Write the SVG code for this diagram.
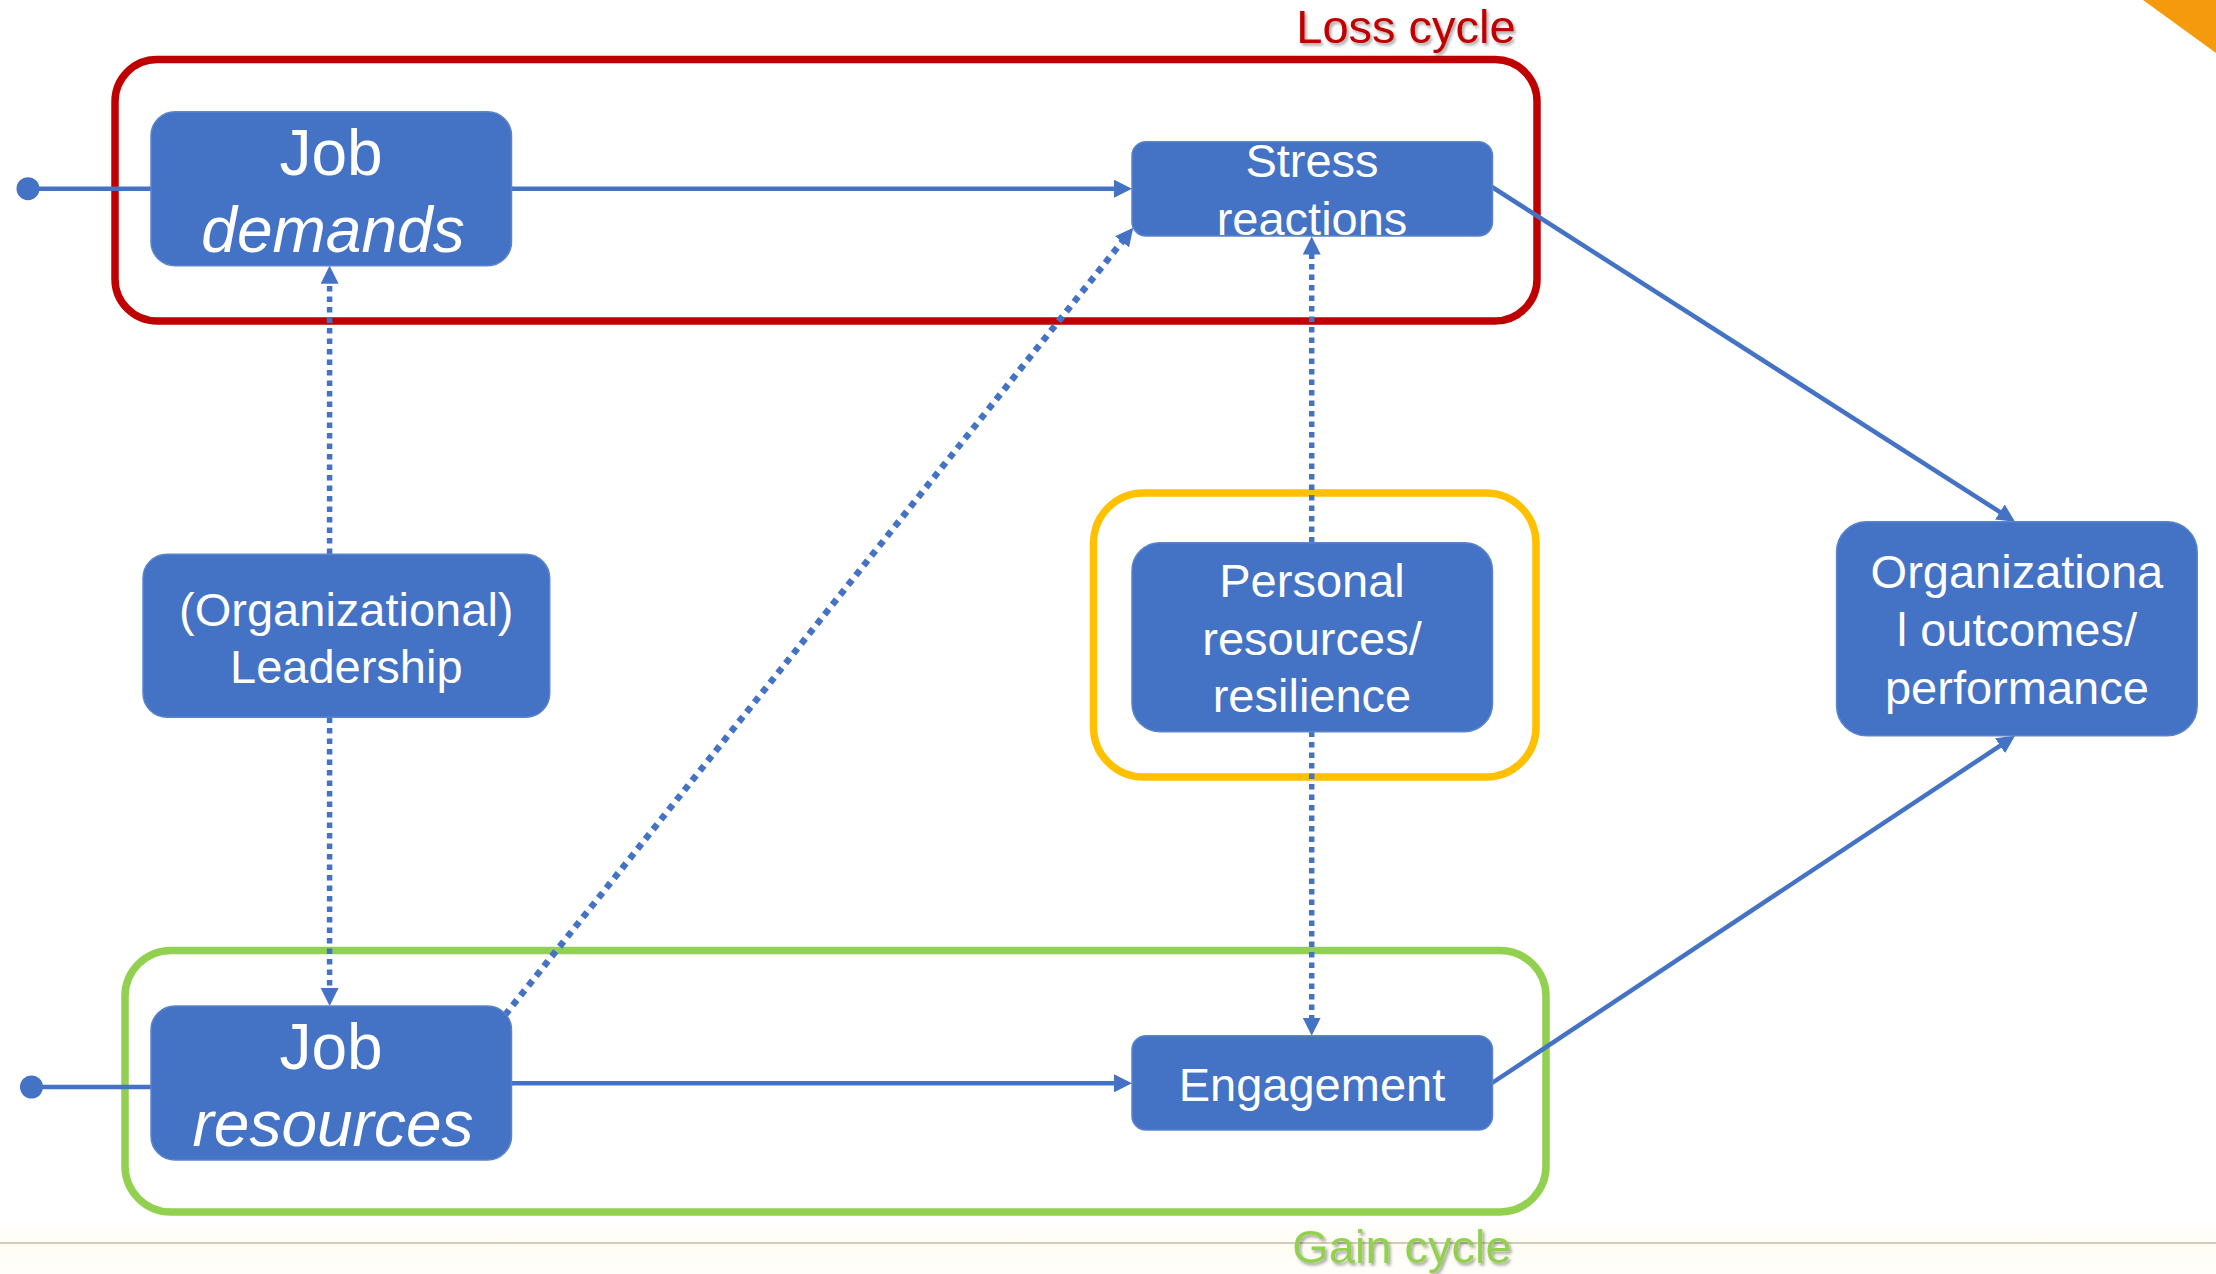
<svg xmlns="http://www.w3.org/2000/svg" width="2216" height="1274" viewBox="0 0 2216 1274">
  <style>
    .node { fill: #4472C4; stroke: #5B84CC; stroke-width: 1.5; }
    .lbl { font-family: "Liberation Sans", Arial, sans-serif; fill: #FFFFFF; text-anchor: middle; font-size: 47px; }
    .big { font-size: 64px; }
    .it { font-style: italic; }
    .flow { fill: none; stroke: #4472C4; stroke-width: 4.5; }
    .dot { fill: none; stroke: #4472C4; stroke-width: 5.5; stroke-dasharray: 5.5 5; }
    .dotwide { fill: none; stroke: #4472C4; stroke-width: 6.5; stroke-dasharray: 6.5 6; }
    .cycle { fill: none; stroke-width: 7.5; }
    .title { font-family: "Liberation Sans", Arial, sans-serif; font-size: 47px; text-anchor: middle; }
  </style>
  <defs>
    <marker id="arrow" viewBox="0 0 18 18" refX="8" refY="9" markerWidth="18" markerHeight="18" markerUnits="userSpaceOnUse" orient="auto">
      <path d="M0,0 L18,9 L0,18 z" fill="#4472C4"/>
    </marker>
    <filter id="shadow" x="-10%" y="-30%" width="120%" height="160%">
      <feDropShadow dx="2" dy="2.5" stdDeviation="1.5" flood-color="#000000" flood-opacity="0.35"/>
    </filter>
    <linearGradient id="band" x1="0" y1="0" x2="0" y2="1">
      <stop offset="0" stop-color="#FFFFFF"/>
      <stop offset="0.4" stop-color="#FFFCF3"/>
      <stop offset="1" stop-color="#FFFEFA"/>
    </linearGradient>
  </defs>

  <!-- page -->
  <rect x="0" y="0" width="2216" height="1274" fill="#FFFFFF"/>
  <rect x="0" y="1222" width="2216" height="52" fill="url(#band)"/>
  <line x1="0" y1="1243" x2="2216" y2="1243" stroke="#D3CBC0" stroke-width="2"/>
  <polygon points="2143,0 2216,0 2216,53" fill="#F59A0C"/>

  <!-- cycle frames -->
  <g id="loss-cycle">
    <rect class="cycle" x="115" y="59.5" width="1422" height="261.5" rx="42" ry="42" stroke="#C00000"/>
    <text class="title" x="1406" y="43" fill="#C00000" filter="url(#shadow)">Loss cycle</text>
  </g>
  <g id="resilience-frame">
    <rect class="cycle" x="1093.5" y="493" width="442.5" height="284" rx="50" ry="50" stroke="#FFC000"/>
  </g>
  <g id="gain-cycle">
    <rect class="cycle" x="125" y="950.5" width="1421" height="261.5" rx="46" ry="46" stroke="#92D050"/>
    <text class="title" x="1402" y="1263" fill="#92D050" filter="url(#shadow)">Gain cycle</text>
  </g>

  <!-- connectors -->
  <g id="connectors">
    <circle cx="28" cy="188.7" r="11.5" fill="#4472C4"/>
    <line class="flow" x1="28" y1="188.7" x2="152" y2="188.7"/>
    <circle cx="31.5" cy="1087" r="11.5" fill="#4472C4"/>
    <line class="flow" x1="31.5" y1="1087" x2="152" y2="1087"/>

    <line class="flow" x1="511" y1="188.7" x2="1122" y2="188.7" marker-end="url(#arrow)"/>
    <line class="flow" x1="511" y1="1083.3" x2="1122" y2="1083.3" marker-end="url(#arrow)"/>
    <line class="flow" x1="1492" y1="187" x2="2006.6" y2="516.3" marker-end="url(#arrow)"/>
    <line class="flow" x1="1492" y1="1083" x2="2006.7" y2="741.3" marker-end="url(#arrow)"/>

    <line class="dot" x1="329.6" y1="554" x2="329.6" y2="275.7" marker-end="url(#arrow)"/>
    <line class="dot" x1="329.6" y1="717.5" x2="329.6" y2="996" marker-end="url(#arrow)"/>
    <line class="dot" x1="1311.7" y1="542.5" x2="1311.7" y2="246.5" marker-end="url(#arrow)"/>
    <line class="dot" x1="1311.7" y1="731.5" x2="1311.7" y2="1025.7" marker-end="url(#arrow)"/>

    <line class="dotwide" x1="505" y1="1015" x2="1127" y2="235.5" marker-end="url(#arrow)"/>
  </g>

  <!-- nodes -->
  <g id="job-demands">
    <rect class="node" x="151" y="111.7" width="360.5" height="154" rx="24" ry="24"/>
    <text class="lbl big" x="331" y="175">Job</text>
    <text class="lbl big it" x="333" y="251.5">demands</text>
  </g>
  <g id="stress-reactions">
    <rect class="node" x="1132" y="141.7" width="360.5" height="94.3" rx="14" ry="14"/>
    <text class="lbl" x="1312" y="177">Stress</text>
    <text class="lbl" x="1312" y="235">reactions</text>
  </g>
  <g id="leadership">
    <rect class="node" x="143" y="554.3" width="406.7" height="163" rx="24" ry="24"/>
    <text class="lbl" x="346.3" y="626">(Organizational)</text>
    <text class="lbl" x="346.3" y="683.3">Leadership</text>
  </g>
  <g id="personal-resources">
    <rect class="node" x="1132" y="542.7" width="360.5" height="189" rx="28" ry="28"/>
    <text class="lbl" x="1312" y="597.3">Personal</text>
    <text class="lbl" x="1312" y="654.5">resources/</text>
    <text class="lbl" x="1312" y="712">resilience</text>
  </g>
  <g id="organizational-outcomes">
    <rect class="node" x="1836.6" y="521.7" width="360.6" height="214" rx="30" ry="30"/>
    <text class="lbl" x="2016.9" y="588.3">Organizationa</text>
    <text class="lbl" x="2016.9" y="646">l outcomes/</text>
    <text class="lbl" x="2016.9" y="704">performance</text>
  </g>
  <g id="job-resources">
    <rect class="node" x="151" y="1006" width="360.5" height="154" rx="24" ry="24"/>
    <text class="lbl big" x="331" y="1069">Job</text>
    <text class="lbl big it" x="333" y="1146">resources</text>
  </g>
  <g id="engagement">
    <rect class="node" x="1132" y="1035.7" width="360.5" height="94.3" rx="14" ry="14"/>
    <text class="lbl" x="1312" y="1101">Engagement</text>
  </g>
</svg>
